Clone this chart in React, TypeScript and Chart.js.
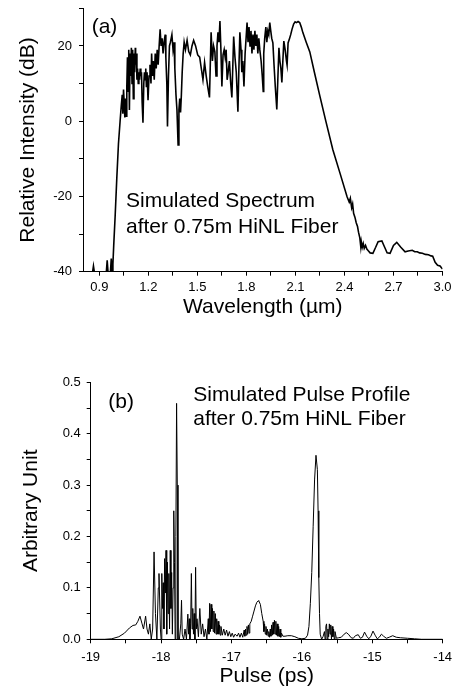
import React, { useEffect, useRef } from "react";
import { Chart, registerables } from "chart.js";

Chart.register(...registerables);

const FONT = '"Liberation Sans", Arial, Helvetica, sans-serif';

// ---------- (a) Simulated spectrum ----------
const wavelength = [
  0.800, 0.859, 0.864, 0.869, 0.943, 0.948, 0.953, 0.968, 0.973, 0.978, 0.983, 0.988, 0.997, 1.007, 1.017, 1.027,
  1.034, 1.040, 1.044, 1.048, 1.052, 1.056, 1.060, 1.064, 1.068, 1.072, 1.076, 1.080, 1.084, 1.088, 1.092, 1.096,
  1.100, 1.104, 1.108, 1.112, 1.116, 1.120, 1.122, 1.126, 1.130, 1.134, 1.138, 1.142, 1.146, 1.150, 1.154, 1.158,
  1.162, 1.167, 1.172, 1.176, 1.180, 1.184, 1.188, 1.192, 1.198, 1.204, 1.210, 1.216, 1.220, 1.225, 1.230, 1.236,
  1.242, 1.248, 1.254, 1.260, 1.266, 1.272, 1.278, 1.284, 1.290, 1.296, 1.303, 1.307, 1.313, 1.317, 1.323, 1.329,
  1.335, 1.344, 1.351, 1.357, 1.362, 1.369, 1.375, 1.382, 1.387, 1.392, 1.397, 1.402, 1.407, 1.413, 1.419, 1.427,
  1.437, 1.447, 1.457, 1.467, 1.477, 1.489, 1.502, 1.514, 1.524, 1.534, 1.544, 1.554, 1.564, 1.574, 1.579, 1.584,
  1.592, 1.599, 1.607, 1.614, 1.620, 1.626, 1.632, 1.638, 1.644, 1.650, 1.657, 1.664, 1.670, 1.676, 1.682, 1.688,
  1.696, 1.704, 1.711, 1.717, 1.722, 1.730, 1.738, 1.748, 1.754, 1.760, 1.767, 1.772, 1.778, 1.785, 1.792, 1.798,
  1.804, 1.810, 1.816, 1.822, 1.828, 1.834, 1.840, 1.846, 1.852, 1.858, 1.864, 1.870, 1.876, 1.882, 1.890, 1.897,
  1.903, 1.906, 1.912, 1.919, 1.925, 1.931, 1.937, 1.943, 1.949, 1.955, 1.962, 1.969, 1.977, 1.986, 1.993, 1.999,
  2.005, 2.011, 2.017, 2.023, 2.029, 2.037, 2.045, 2.049, 2.055, 2.064, 2.071, 2.079, 2.089, 2.098, 2.106, 2.116,
  2.126, 2.136, 2.145, 2.166, 2.188, 2.216, 2.250, 2.286, 2.329, 2.374, 2.416, 2.429, 2.436, 2.444, 2.450, 2.456,
  2.464, 2.472, 2.480, 2.486, 2.494, 2.500, 2.503, 2.509, 2.515, 2.521, 2.529, 2.537, 2.547, 2.557, 2.574, 2.591,
  2.606, 2.629, 2.646, 2.661, 2.679, 2.700, 2.720, 2.745, 2.771, 2.790, 2.815, 2.830, 2.846, 2.860, 2.877, 2.895,
  2.914, 2.930, 2.940, 2.955, 2.970, 2.985, 3.000,
];
const intensity = [
  -40, -40, -38.5, -40, -40, -37, -40, -40, -36.5, -40, -38, -33, -25, -15, -6, 0,
  4, 7, 2, 8.4, 5, 1, 6, 1.3, 9, 17, 8, 19, 3, 18, 12, 19.5,
  10, 19, 6, 18, 13, 19.5, 15, 18, 11, 14, 10, 13, 11, 14, 12, 13,
  5, -0.4, 10, 13, 11, 14, 9, 13, 5.6, 12, 15, 10, 18, 12, 16, 11,
  18, 14, 19, 15, 20, 24.4, 20, 22, 18, 21, 23, 17, 10, -1.4, 12, 20,
  21, 23, 19, 21, 14, 7, 3, -6.3, 3, 6, 2.3, 7, 13, 18, 21, 19,
  21.5, 18.5, 17.6, 20, 21.5, 20, 17.6, 17, 14, 11, 15.6, 12, 9, 6.3, 15, 23.6,
  16, 20, 18.4, 12, 20, 23.6, 21, 26.6, 19, 9.2, 17.6, 19, 17, 19, 11, 12.9,
  16, 10, 6.3, 15, 22.5, 17, 13, 2.5, 14, 23.6, 19, 13, 16, 9.2, 18, 22,
  26.2, 21, 25, 20, 24, 18, 23, 19, 24, 20, 23, 18, 22, 19, 16, 12,
  7.9, 18, 22, 25, 21, 24, 23, 26.2, 24, 22, 20.8, 15, 9, 3.1, 12, 19.5,
  16, 14, 10.3, 16, 21.3, 19, 16, 14.9, 20.8, 22, 23, 24.4, 25.8, 26.4, 26.2, 26.5,
  26.2, 25, 23.6, 21, 18.4, 13, 6.6, 0, -7.6, -14, -20.1, -21.5, -20.5, -23, -22, -24.5,
  -25.5, -27, -28, -29.5, -31, -33.4, -32, -33.5, -32.5, -33.8, -33, -34, -34.5, -35, -35.1, -33.5,
  -32, -31.8, -33.5, -35, -35.1, -33, -32.2, -33.5, -34.7, -34.5, -34.3, -34.7, -34.7, -35, -35.1, -35.4,
  -35.5, -35.8, -35.9, -37.5, -38.3, -38.5, -39.3,
];
const spectrumXTicks = [0.9, 1.05, 1.2, 1.35, 1.5, 1.65, 1.8, 1.95, 2.1, 2.25, 2.4, 2.55, 2.7, 2.85, 3.0];
const spectrumXLabels = ["0.9", "1.2", "1.5", "1.8", "2.1", "2.4", "2.7", "3.0"];
const spectrumYTicks = [-40, -30, -20, -10, 0, 10, 20, 30];
const spectrumYLabels = ["-40", "-20", "0", "20"];

// ---------- (b) Simulated pulse profile ----------
const pulseTime = [
  -19.00, -18.80, -18.70, -18.60, -18.52, -18.45, -18.40, -18.36, -18.33, -18.30, -18.27, -18.25, -18.22, -18.20, -18.18, -18.16,
  -18.14, -18.12, -18.10, -18.08, -18.06, -18.04, -18.03, -18.01, -18.00, -17.99, -17.98, -17.97, -17.96, -17.95, -17.94, -17.93,
  -17.92, -17.91, -17.90, -17.89, -17.88, -17.87, -17.86, -17.85, -17.84, -17.83, -17.82, -17.81, -17.80, -17.79, -17.78, -17.77,
  -17.76, -17.74, -17.72, -17.71, -17.70, -17.68, -17.66, -17.64, -17.62, -17.61, -17.60, -17.59, -17.58, -17.57, -17.56, -17.55,
  -17.54, -17.53, -17.52, -17.51, -17.50, -17.49, -17.47, -17.45, -17.43, -17.41, -17.39, -17.37, -17.35, -17.33, -17.32, -17.31,
  -17.30, -17.29, -17.28, -17.27, -17.26, -17.25, -17.24, -17.23, -17.22, -17.21, -17.20, -17.19, -17.18, -17.17, -17.16, -17.15,
  -17.13, -17.11, -17.09, -17.07, -17.05, -17.03, -17.01, -16.99, -16.97, -16.95, -16.92, -16.90, -16.88, -16.86, -16.84, -16.82,
  -16.81, -16.80, -16.79, -16.78, -16.77, -16.76, -16.75, -16.74, -16.72, -16.70, -16.68, -16.66, -16.64, -16.62, -16.61, -16.59,
  -16.57, -16.55, -16.54, -16.53, -16.52, -16.51, -16.50, -16.49, -16.48, -16.47, -16.46, -16.45, -16.44, -16.43, -16.42, -16.41,
  -16.40, -16.39, -16.38, -16.37, -16.36, -16.35, -16.34, -16.33, -16.32, -16.31, -16.30, -16.29, -16.27, -16.24, -16.20, -16.15,
  -16.10, -16.05, -16.00, -15.95, -15.92, -15.90, -15.88, -15.86, -15.84, -15.82, -15.80, -15.78, -15.77, -15.76, -15.75, -15.74,
  -15.72, -15.70, -15.68, -15.67, -15.66, -15.65, -15.64, -15.63, -15.62, -15.61, -15.60, -15.59, -15.58, -15.57, -15.56, -15.55,
  -15.54, -15.53, -15.51, -15.48, -15.44, -15.40, -15.37, -15.34, -15.30, -15.27, -15.24, -15.20, -15.17, -15.14, -15.11, -15.08,
  -15.05, -15.02, -14.99, -14.96, -14.93, -14.90, -14.87, -14.84, -14.80, -14.76, -14.71, -14.66, -14.60, -14.50, -14.40, -14.30,
  -14.00,
];
const pulseAmp = [
  0, 0, 0.001, 0.005, 0.012, 0.022, 0.027, 0.028, 0.035, 0.045, 0.03, 0.02, 0.045, 0.02, 0.01, 0.03,
  0.0, 0.02, 0.17, 0.05, 0.0, 0.1, 0.128, 0.02, 0.0, 0.128, 0.06, 0.11, 0.02, 0.157, 0.09, 0.173,
  0.01, 0.15, 0.05, 0.128, 0.02, 0.173, 0.06, 0.13, 0.01, 0.1, 0.25, 0.15, 0.0, 0.2, 0.459, 0.3,
  0.0, 0.0, 0.03, 0.076, 0.01, 0.0, 0.02, 0.0, 0.049, 0.01, 0.04, 0.0, 0.03, 0.128, 0.02, 0.06,
  0.01, 0.05, 0.0, 0.14, 0.02, 0.04, 0.005, 0.06, 0.01, 0.03, 0.005, 0.02, 0.0, 0.04, 0.01, 0.07,
  0.015, 0.068, 0.02, 0.06, 0.015, 0.055, 0.012, 0.05, 0.01, 0.04, 0.01, 0.035, 0.01, 0.028, 0.008, 0.025,
  0.008, 0.02, 0.008, 0.018, 0.006, 0.015, 0.005, 0.012, 0.004, 0.01, 0.006, 0.012, 0.004, 0.012, 0.004, 0.018,
  0.006, 0.02, 0.008, 0.025, 0.01, 0.028, 0.012, 0.03, 0.035, 0.045, 0.055, 0.065, 0.072, 0.075, 0.074, 0.068,
  0.05, 0.035, 0.015, 0.03, 0.01, 0.025, 0.008, 0.02, 0.006, 0.015, 0.004, 0.02, 0.006, 0.028, 0.008, 0.033,
  0.01, 0.037, 0.01, 0.035, 0.008, 0.03, 0.006, 0.025, 0.005, 0.02, 0.004, 0.012, 0.006, 0.006, 0.007, 0.007,
  0.005, 0.002, 0.001, 0.002, 0.008, 0.025, 0.07, 0.13, 0.22, 0.31, 0.358, 0.33, 0.25, 0.12, 0.05, 0.01,
  0.0, 0.005, 0.015, 0.0, 0.025, 0.03, 0.0, 0.02, 0.005, 0.03, 0.01, 0.028, 0.0, 0.025, 0.005, 0.02,
  0.0, 0.015, 0.002, 0.003, 0.004, 0.01, 0.013, 0.01, 0.003, 0.002, 0.007, 0.009, 0.002, 0.004, 0.014, 0.006,
  0.001, 0.006, 0.016, 0.008, 0.001, 0.004, 0.01, 0.006, 0.002, 0.004, 0.007, 0.004, 0.003, 0.002, 0.001, 0.0,
  0,
];
const pulseXTicks = [-19, -18.5, -18, -17.5, -17, -16.5, -16, -15.5, -15, -14.5, -14];
const pulseXLabels = ["-19", "-18", "-17", "-16", "-15", "-14"];
const pulseYTicks = [0, 0.05, 0.1, 0.15, 0.2, 0.25, 0.3, 0.35, 0.4, 0.45, 0.5];
const pulseYLabels = ["0.0", "0.1", "0.2", "0.3", "0.4", "0.5"];

type Note = { text: string; x: number; y: number; size: number };

const spectrumNotes: Note[] = [
  { text: "(a)", x: 0.853, y: 23.4, size: 21 },
  { text: "Simulated Spectrum", x: 1.063, y: -22.8, size: 21 },
  { text: "after 0.75m HiNL Fiber", x: 1.063, y: -29.7, size: 21 },
];
const pulseNotes: Note[] = [
  { text: "(b)", x: -18.75, y: 0.45, size: 21 },
  { text: "Simulated Pulse Profile", x: -17.543, y: 0.4636, size: 21 },
  { text: "after 0.75m HiNL Fiber", x: -17.543, y: 0.417, size: 21 },
];

function notesPlugin(notes: Note[]) {
  return {
    id: "notes",
    afterDraw(chart: any) {
      const ctx = chart.ctx;
      const xs = chart.scales.x;
      const ys = chart.scales.y;
      ctx.save();
      ctx.fillStyle = "#000";
      ctx.textAlign = "left";
      ctx.textBaseline = "alphabetic";
      for (const n of notes) {
        ctx.font = `${n.size}px ${FONT}`;
        ctx.fillText(n.text, xs.getPixelForValue(n.x), ys.getPixelForValue(n.y));
      }
      ctx.restore();
    },
  };
}

type Cfg = {
  xs: number[];
  ys: number[];
  xMin: number;
  xMax: number;
  yMin: number;
  yMax: number;
  xTicks: number[];
  xLabels: string[];
  yTicks: number[];
  yLabels: string[];
  xTitle: string;
  yTitle: string;
  lineWidth: number;
  padTop: number;
  padRight: number;
  yAxisWidth: number;
  xAxisHeight: number;
  yTitlePad: number;
  xTitlePad: number;
  xTickPad: number;
  yTickPad: number;
  notes: Note[];
};

function makeChart(canvas: HTMLCanvasElement, c: Cfg) {
  const tickFont = { family: FONT, size: 13 };
  const titleFont = { family: FONT, size: 21 };
  return new Chart(canvas, {
    type: "line",
    data: {
      datasets: [
        {
          data: c.xs.map((x, i) => ({ x, y: c.ys[i] })),
          borderColor: "#000",
          borderWidth: c.lineWidth,
          pointRadius: 0,
          tension: 0,
          fill: false,
        },
      ],
    },
    options: {
      responsive: false,
      animation: false,
      events: [],
      layout: { padding: { top: c.padTop, right: c.padRight, left: 0, bottom: 0 } },
      plugins: { legend: { display: false }, tooltip: { enabled: false }, title: { display: false } },
      scales: {
        x: {
          type: "linear",
          min: c.xMin,
          max: c.xMax,
          afterBuildTicks: (s: any) => {
            s.ticks = c.xTicks.map((v) => ({ value: v }));
          },
          afterFit: (s: any) => {
            s.height = c.xAxisHeight;
            s.paddingLeft = 0;
            s.paddingRight = 0;
          },
          ticks: {
            autoSkip: false,
            maxRotation: 0,
            color: "#000",
            font: tickFont,
            padding: c.xTickPad,
            callback: (_v: any, i: number) => (i % 2 === 0 ? c.xLabels[i / 2] : ""),
          },
          grid: { drawOnChartArea: false, drawTicks: true, tickLength: 4, color: "#000", tickColor: "#000" },
          border: { display: true, color: "#000", width: 1 },
          title: { display: true, text: c.xTitle, color: "#000", font: titleFont, padding: { top: 0, bottom: c.xTitlePad } },
        },
        y: {
          type: "linear",
          min: c.yMin,
          max: c.yMax,
          afterBuildTicks: (s: any) => {
            s.ticks = c.yTicks.map((v) => ({ value: v }));
          },
          afterFit: (s: any) => {
            s.width = c.yAxisWidth;
            s.paddingTop = 0;
            s.paddingBottom = 0;
          },
          ticks: {
            autoSkip: false,
            color: "#000",
            font: tickFont,
            padding: c.yTickPad,
            callback: (_v: any, i: number) => (i % 2 === 0 ? c.yLabels[i / 2] ?? "" : ""),
          },
          grid: { drawOnChartArea: false, drawTicks: true, tickLength: 4, color: "#000", tickColor: "#000" },
          border: { display: true, color: "#000", width: 1 },
          title: { display: true, text: c.yTitle, color: "#000", font: titleFont, padding: { top: c.yTitlePad, bottom: 0 } },
        },
      },
    },
    plugins: [notesPlugin(c.notes)],
  } as any);
}

export default function App() {
  const topRef = useRef<HTMLCanvasElement>(null);
  const botRef = useRef<HTMLCanvasElement>(null);

  useEffect(() => {
    const a = makeChart(topRef.current!, {
      xs: wavelength,
      ys: intensity,
      xMin: 0.8,
      xMax: 3.0,
      yMin: -40,
      yMax: 30,
      xTicks: spectrumXTicks,
      xLabels: spectrumXLabels,
      yTicks: spectrumYTicks,
      yLabels: spectrumYLabels,
      xTitle: "Wavelength (\u00b5m)",
      yTitle: "Relative Intensity (dB)",
      lineWidth: 1.6,
      padTop: 8.3,
      padRight: 16.5,
      yAxisWidth: 83,
      xAxisHeight: 48.3,
      yTitlePad: 16,
      xTitlePad: 0,
      xTickPad: 4,
      yTickPad: 7,
      notes: spectrumNotes,
    });
    const b = makeChart(botRef.current!, {
      xs: pulseTime,
      ys: pulseAmp,
      xMin: -19,
      xMax: -14,
      yMin: 0,
      yMax: 0.5,
      xTicks: pulseXTicks,
      xLabels: pulseXLabels,
      yTicks: pulseYTicks,
      yLabels: pulseYLabels,
      xTitle: "Pulse (ps)",
      yTitle: "Arbitrary Unit",
      lineWidth: 1,
      padTop: 52.3,
      padRight: 16.3,
      yAxisWidth: 90.7,
      xAxisHeight: 47.7,
      yTitlePad: 19,
      xTitlePad: -2,
      xTickPad: 6,
      yTickPad: 6,
      notes: pulseNotes,
    });
    return () => {
      a.destroy();
      b.destroy();
    };
  }, []);

  return (
    <div style={{ position: "absolute", left: 0, top: 0, width: 459, height: 687, background: "#fff" }}>
      <canvas ref={topRef} width={459} height={320} style={{ position: "absolute", left: 0, top: 0, display: "block" }} />
      <canvas ref={botRef} width={459} height={357} style={{ position: "absolute", left: 0, top: 330, display: "block" }} />
    </div>
  );
}
